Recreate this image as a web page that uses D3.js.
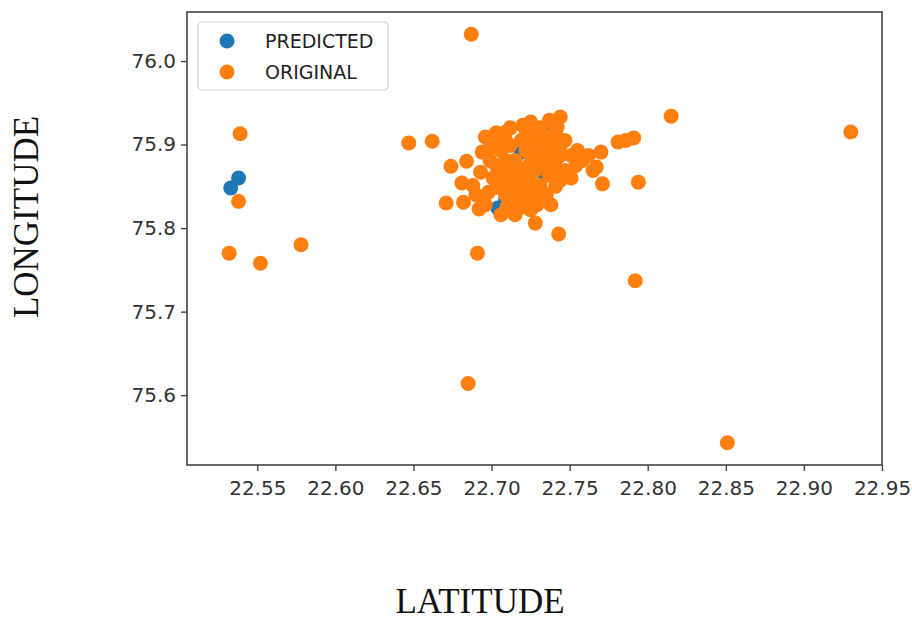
<!DOCTYPE html>
<html>
<head>
<meta charset="utf-8">
<script src="https://cdn.jsdelivr.net/npm/d3@7"></script>
<style>
  html, body { margin: 0; padding: 0; background: #fff; }
  svg { display: block; }
</style>
</head>
<body>
<svg id="chart" width="912" height="620"></svg>
<script>
// ---- data (latitude, longitude) ----
const seriesNames = ["PREDICTED", "ORIGINAL"];
const xTicks = [22.55, 22.60, 22.65, 22.70, 22.75, 22.80, 22.85, 22.90, 22.95];
const yTicks = [75.6, 75.7, 75.8, 75.9, 76.0];

const predictedLat = [22.538, 22.533, 22.704, 22.719, 22.733, 22.739, 22.715, 22.725, 22.709];
const predictedLon = [75.860, 75.848, 75.824, 75.891, 75.867, 75.923, 75.851, 75.875, 75.834];

const originalLat = [
  22.647, 22.662, 22.674, 22.684, 22.681, 22.671, 22.682, 22.692, 22.691, 22.696,
  22.703, 22.709, 22.694, 22.693, 22.703, 22.710, 22.719, 22.729, 22.728, 22.743,
  22.741, 22.722, 22.725, 22.744, 22.742, 22.755, 22.758, 22.770, 22.767, 22.771,
  22.794, 22.781, 22.786, 22.791, 22.815, 22.930, 22.685, 22.792, 22.851, 22.687,
  22.539, 22.538, 22.532, 22.552, 22.578,
  22.699, 22.706, 22.712, 22.715, 22.719, 22.722, 22.725, 22.728, 22.731, 22.735,
  22.738, 22.741, 22.744, 22.747, 22.751, 22.747, 22.737, 22.731, 22.724, 22.713,
  22.706, 22.701, 22.709, 22.715, 22.722, 22.735, 22.727, 22.741, 22.737, 22.731,
  22.719, 22.712, 22.704, 22.698, 22.719, 22.744, 22.751, 22.754, 22.762, 22.765,
  22.738, 22.715, 22.706, 22.696, 22.688, 22.725, 22.690,
  22.703, 22.709, 22.712, 22.709, 22.717, 22.725, 22.728, 22.735, 22.738, 22.735,
  22.722, 22.725, 22.731, 22.738, 22.744, 22.741, 22.728, 22.722, 22.712,
  22.706, 22.715, 22.720, 22.728, 22.709, 22.699
];
const originalLon = [
  75.902, 75.904, 75.874, 75.880, 75.854, 75.830, 75.831, 75.823, 75.770, 75.909,
  75.914, 75.915, 75.891, 75.867, 75.849, 75.826, 75.825, 75.828, 75.806, 75.793,
  75.850, 75.911, 75.927, 75.933, 75.921, 75.893, 75.881, 75.891, 75.873, 75.853,
  75.855, 75.903, 75.905, 75.908, 75.934, 75.915, 75.614, 75.737, 75.543, 76.032,
  75.913, 75.832, 75.770, 75.758, 75.780,
  75.881, 75.893, 75.899, 75.881, 75.869, 75.857, 75.846, 75.881, 75.893, 75.905,
  75.893, 75.881, 75.899, 75.905, 75.887, 75.869, 75.863, 75.851, 75.875, 75.860,
  75.869, 75.860, 75.840, 75.840, 75.834, 75.840, 75.905, 75.915, 75.929, 75.920,
  75.905, 75.920, 75.903, 75.843, 75.846, 75.857, 75.860, 75.875, 75.887, 75.869,
  75.828, 75.816, 75.816, 75.828, 75.851, 75.822, 75.840,
  75.875, 75.881, 75.869, 75.857, 75.857, 75.863, 75.869, 75.875, 75.881, 75.887,
  75.893, 75.887, 75.905, 75.911, 75.887, 75.869, 75.840, 75.846, 75.846,
  75.851, 75.828, 75.923, 75.915, 75.905, 75.896
];

const colors = ["#1f77b4", "#ff7f0e"];

// ---- layout ----
const svg = d3.select("#chart");
const plot = { left: 187, right: 882, top: 12, bottom: 465 };

const x = d3.scaleLinear().domain([22.505, 22.95]).range([plot.left, plot.right]);
const y = d3.scaleLinear().domain([75.5164, 76.0587]).range([plot.bottom, plot.top]);

const tickFont = "DejaVu Sans, sans-serif";
const R = 7.5;

// points
const pred = predictedLat.map((v, i) => ({ lat: v, lon: predictedLon[i] }));
const orig = originalLat.map((v, i) => ({ lat: v, lon: originalLon[i] }));

const gPts = svg.append("g");
gPts.selectAll("circle.pred").data(pred).enter().append("circle")
  .attr("class", "pred")
  .attr("cx", d => x(d.lat)).attr("cy", d => y(d.lon)).attr("r", R)
  .attr("fill", colors[0]);
gPts.selectAll("circle.orig").data(orig).enter().append("circle")
  .attr("class", "orig")
  .attr("cx", d => x(d.lat)).attr("cy", d => y(d.lon)).attr("r", R)
  .attr("fill", colors[1]);

// frame
svg.append("rect")
  .attr("x", plot.left).attr("y", plot.top)
  .attr("width", plot.right - plot.left).attr("height", plot.bottom - plot.top)
  .attr("fill", "none").attr("stroke", "#444").attr("stroke-width", 1.6);

// axes
const xAxis = d3.axisBottom(x).tickValues(xTicks).tickFormat(d3.format(".2f"))
  .tickSizeOuter(0).tickSizeInner(6).tickPadding(10);
const gx = svg.append("g").attr("transform", `translate(0,${plot.bottom})`).call(xAxis);
gx.select(".domain").remove();
gx.selectAll("line").attr("stroke", "#444").attr("stroke-width", 1.4);
gx.selectAll("text").attr("font-family", tickFont).attr("font-size", 20).attr("fill", "#333");

const yAxis = d3.axisLeft(y).tickValues(yTicks).tickFormat(d3.format(".1f"))
  .tickSizeOuter(0).tickSizeInner(6).tickPadding(5);
const gy = svg.append("g").attr("transform", `translate(${plot.left},0)`).call(yAxis);
gy.select(".domain").remove();
gy.selectAll("line").attr("stroke", "#444").attr("stroke-width", 1.4);
gy.selectAll("text").attr("font-family", tickFont).attr("font-size", 20).attr("fill", "#333");

// legend
const lg = svg.append("g");
lg.append("rect")
  .attr("x", 198).attr("y", 22).attr("width", 190).attr("height", 68)
  .attr("rx", 4).attr("fill", "#fff").attr("fill-opacity", 0.85)
  .attr("stroke", "#d0d0d0").attr("stroke-width", 1.2);
seriesNames.forEach((name, i) => {
  const cy = 41 + i * 31;
  lg.append("circle").attr("cx", 227).attr("cy", cy).attr("r", R).attr("fill", colors[i]);
  lg.append("text").attr("x", 265).attr("y", cy).attr("dy", "0.36em")
    .attr("font-family", tickFont).attr("font-size", 19).attr("fill", "#222")
    .text(name);
});

// axis titles
svg.append("text")
  .attr("x", 480).attr("y", 613)
  .attr("text-anchor", "middle")
  .attr("font-family", "Liberation Serif, 'Times New Roman', serif")
  .attr("font-size", 35).attr("fill", "#111")
  .text("LATITUDE");

svg.append("text")
  .attr("transform", "translate(38,217) rotate(-90)")
  .attr("text-anchor", "middle")
  .attr("font-family", "Liberation Serif, 'Times New Roman', serif")
  .attr("font-size", 35).attr("fill", "#111")
  .text("LONGITUDE");
</script>
</body>
</html>
